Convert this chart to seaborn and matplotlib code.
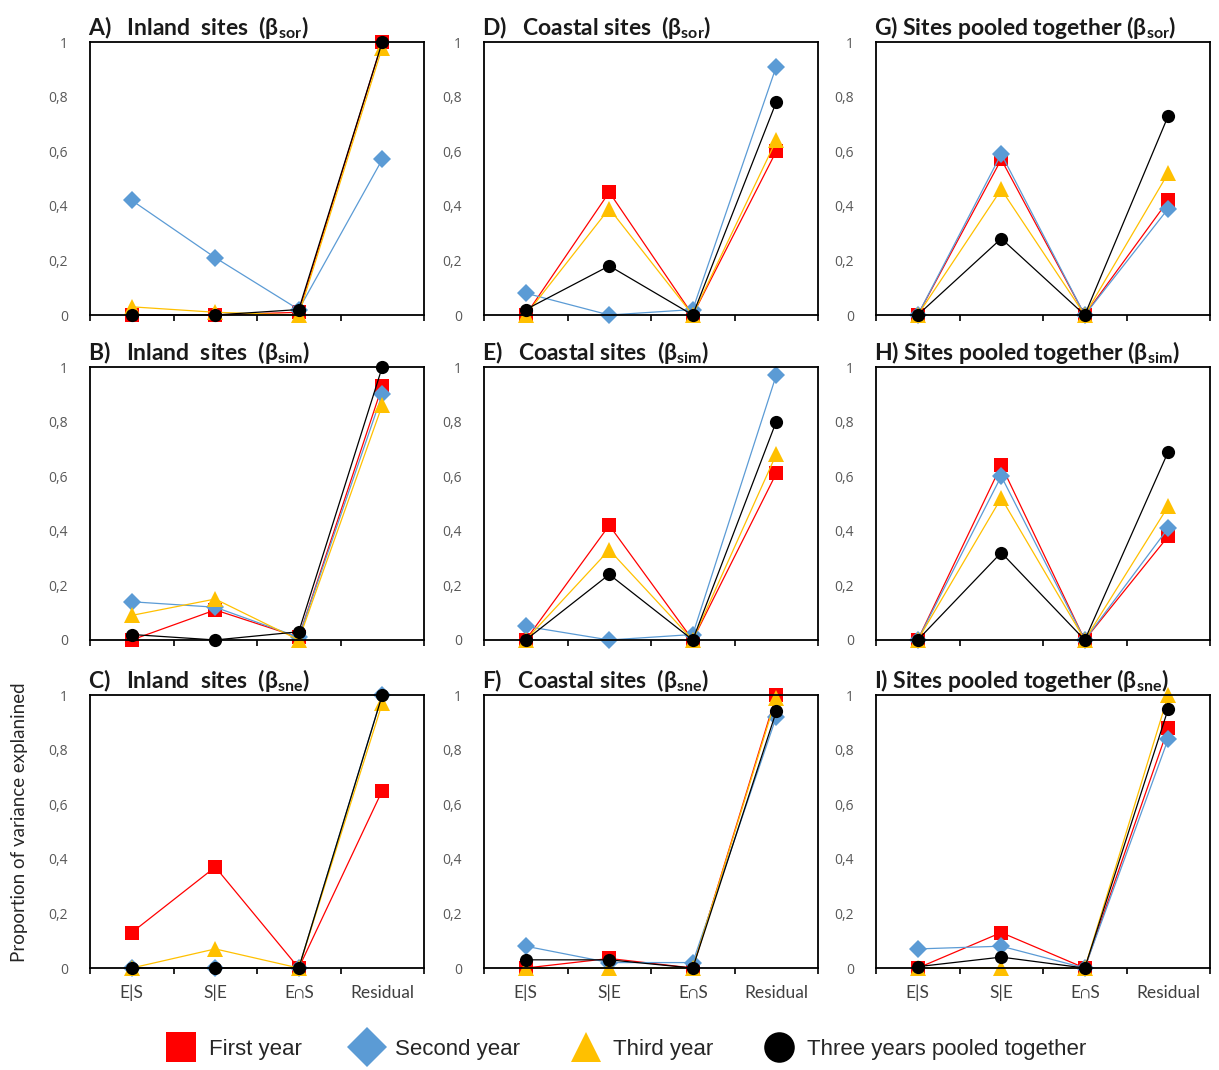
import numpy as np
import pandas as pd
import seaborn as sns
import matplotlib.pyplot as plt
from matplotlib.lines import Line2D

# ---- data ----
components = ["E|S", "S|E", "E∩S", "Residual"]
series = ["First year", "Second year", "Third year", "Three years pooled together"]

# values per panel, order: First, Second, Third, pooled  (each E|S, S|E, E∩S, Residual)
panel_A = [[0.0, 0.0, 0.01, 1.0], [0.42, 0.21, 0.02, 0.57], [0.03, 0.01, 0.0, 0.98], [0.0, 0.0, 0.02, 1.0]]
panel_B = [[0.0, 0.11, 0.01, 0.93], [0.14, 0.12, 0.01, 0.90], [0.09, 0.15, 0.0, 0.86], [0.02, 0.0, 0.03, 1.0]]
panel_C = [[0.13, 0.37, 0.0, 0.65], [0.0, 0.0, 0.0, 1.0], [0.0, 0.07, 0.0, 0.97], [0.0, 0.0, 0.0, 1.0]]
panel_D = [[0.0, 0.45, 0.0, 0.60], [0.08, 0.0, 0.02, 0.91], [0.0, 0.39, 0.0, 0.64], [0.02, 0.18, 0.0, 0.78]]
panel_E = [[0.0, 0.42, 0.0, 0.61], [0.05, 0.0, 0.02, 0.97], [0.0, 0.33, 0.0, 0.68], [0.0, 0.24, 0.0, 0.80]]
panel_F = [[0.0, 0.035, 0.0, 1.0], [0.08, 0.02, 0.02, 0.92], [0.0, 0.0, 0.0, 0.99], [0.03, 0.03, 0.0, 0.94]]
panel_G = [[0.0, 0.57, 0.0, 0.42], [0.0, 0.59, 0.0, 0.39], [0.0, 0.46, 0.0, 0.52], [0.0, 0.28, 0.0, 0.73]]
panel_H = [[0.0, 0.64, 0.0, 0.38], [0.0, 0.60, 0.0, 0.41], [0.0, 0.52, 0.0, 0.49], [0.0, 0.32, 0.0, 0.69]]
panel_I = [[0.0, 0.13, 0.0, 0.88], [0.07, 0.08, 0.0, 0.84], [0.0, 0.0, 0.0, 1.0], [0.005, 0.04, 0.0, 0.95]]

titles = {
    "A": r"A)   Inland  sites  (β$_\mathregular{sor}$)",
    "B": r"B)   Inland  sites  (β$_\mathregular{sim}$)",
    "C": r"C)   Inland  sites  (β$_\mathregular{sne}$)",
    "D": r"D)   Coastal sites  (β$_\mathregular{sor}$)",
    "E": r"E)   Coastal sites  (β$_\mathregular{sim}$)",
    "F": r"F)   Coastal sites  (β$_\mathregular{sne}$)",
    "G": r"G) Sites pooled together (β$_\mathregular{sor}$)",
    "H": r"H) Sites pooled together (β$_\mathregular{sim}$)",
    "I": r"I) Sites pooled together (β$_\mathregular{sne}$)",
}
panels = {"A": panel_A, "B": panel_B, "C": panel_C, "D": panel_D, "E": panel_E,
          "F": panel_F, "G": panel_G, "H": panel_H, "I": panel_I}

colors = {"First year": "#FF0000", "Second year": "#5B9BD5",
          "Third year": "#FFC000", "Three years pooled together": "#000000"}
markers = {"First year": "s", "Second year": "D",
           "Third year": "^", "Three years pooled together": "o"}

# long table
rows = []
for p, vals in panels.items():
    for s, v in zip(series, vals):
        for k, c in enumerate(components):
            rows.append({"panel": p, "series": s, "comp": c, "pos": k + 0.5, "value": v[k]})
df = pd.DataFrame(rows)

sns.set_style("white")
plt.rcParams['font.family'] = ['Lato', 'DejaVu Sans']
plt.rcParams['mathtext.fontset'] = 'custom'
plt.rcParams['mathtext.rm'] = 'Lato'
plt.rcParams['mathtext.bf'] = 'Lato:bold'

fig = plt.figure(figsize=(12.19, 10.70), dpi=100)

col_left = [90 / 1219, 484 / 1219, 876 / 1219]
row_bottom = [0.7056, 0.4019, 0.0953]
w = 334 / 1219
h = 0.2551

layout = [["A", "D", "G"], ["B", "E", "H"], ["C", "F", "I"]]

for r in range(3):
    for c in range(3):
        p = layout[r][c]
        ax = fig.add_axes([col_left[c], row_bottom[r], w, h])
        sub = df[df.panel == p]
        sns.lineplot(data=sub, x="pos", y="value", hue="series", style="series",
                     hue_order=series, style_order=series, palette=colors,
                     markers=markers, dashes=False, errorbar=None, ax=ax,
                     linewidth=0.9, markersize=9.5, mew=0, clip_on=False, legend=False)
        for ln in ax.get_lines():
            if ln.get_marker() == "D":
                ln.set_markersize(9)
            if ln.get_marker() == "^":
                ln.set_markersize(11)
        ax.set_xlim(0, 4)
        ax.set_ylim(0, 1)
        ax.set_xlabel("")
        ax.set_ylabel("")
        for sp in ax.spines.values():
            sp.set_visible(True)
            sp.set_color("black")
            sp.set_linewidth(1.3)
        ax.set_xticks([0, 1, 2, 3, 4])
        ax.set_xticklabels([])
        ax.tick_params(axis="x", which="major", direction="out", length=4.5,
                       width=1.2, color="black", bottom=True)
        ax.set_xticks([0.5, 1.5, 2.5, 3.5], minor=True)
        if r == 2:
            ax.set_xticklabels(components, minor=True)
        ax.tick_params(axis="x", which="minor", length=0, pad=12,
                       labelsize=12.5, labelcolor="#404040")
        ax.set_yticks([0, 0.2, 0.4, 0.6, 0.8, 1.0])
        ax.set_yticklabels(["0", "0,2", "0,4", "0,6", "0,8", "1"], family="Open Sans")
        ax.tick_params(axis="y", length=0, pad=16, labelsize=10, labelcolor="#595959")
        ax.set_title(titles[p], loc="left", fontsize=16.5, fontweight="bold",
                     color="#1a1a1a", pad=5, x=-0.005)

fig.text(20 / 1219, 1 - 822 / 1070, "Proportion of variance explanined", rotation=90,
         ha="center", va="center", fontsize=13.5, color="#262626")

handles = [Line2D([], [], ls="none", marker=markers[s], color=colors[s], mew=0,
                  markersize=(20 if markers[s] == "D" else 22)) for s in series]
fig.legend(handles, series, loc="center", bbox_to_anchor=(0.513, 0.019), ncol=4,
           frameon=False, handletextpad=0.5, columnspacing=2.2, handlelength=1.5,
           prop={"family": "Liberation Sans", "size": 16})

fig.savefig("out.png", dpi=100)
